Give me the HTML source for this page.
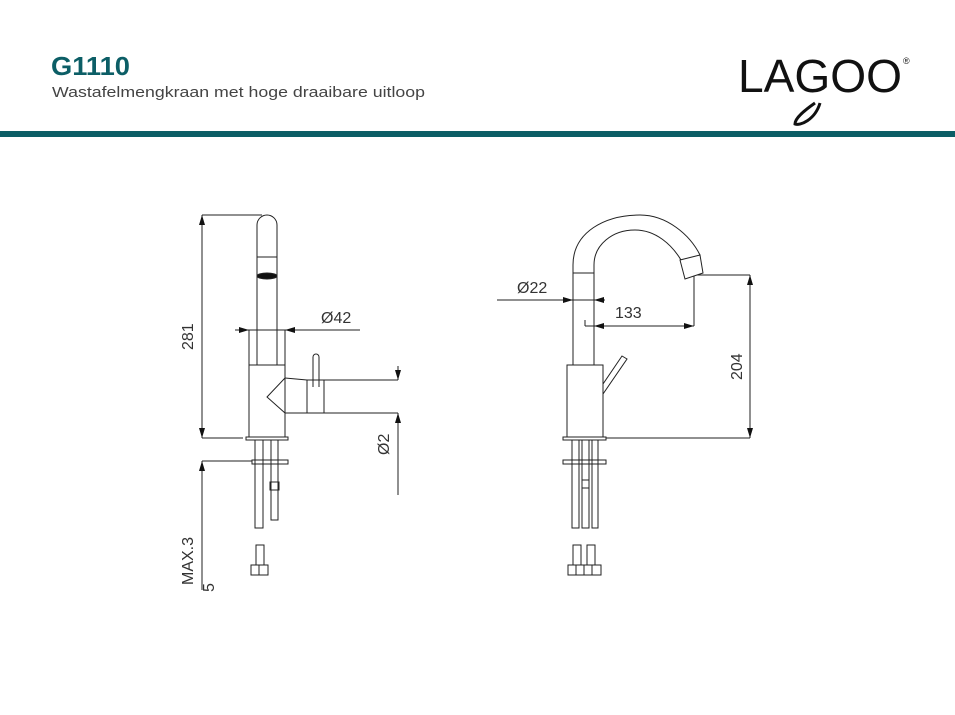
<!DOCTYPE html>
<html><head><style>
body{margin:0;background:#fff;}
svg{display:block;}
</style></head><body>
<svg width="955" height="715" viewBox="0 0 955 715" xmlns="http://www.w3.org/2000/svg">
<rect width="955" height="715" fill="#fff"/>
<text x="51" y="75" font-family="Liberation Sans, sans-serif" font-size="26" font-weight="bold" fill="#0c5e66" textLength="79" lengthAdjust="spacingAndGlyphs">G1110</text>
<text x="52" y="97" font-family="Liberation Sans, sans-serif" font-size="15" fill="#444" textLength="373" lengthAdjust="spacingAndGlyphs">Wastafelmengkraan met hoge draaibare uitloop</text>
<text x="738" y="92" font-family="Liberation Sans, sans-serif" font-size="46" fill="#111" textLength="164" lengthAdjust="spacingAndGlyphs">LAGOO</text>
<text x="903" y="64" font-family="Liberation Sans, sans-serif" font-size="9" fill="#111">®</text>
<path d="M815 103 C805 110 795 118 795 124 C800 126 815 120 820 103" fill="none" stroke="#111" stroke-width="3"/>
<rect x="0" y="131" width="955" height="6" fill="#0c5e66"/>

<g fill="none" stroke="#222" stroke-width="1">
<!-- LEFT VIEW -->
<line x1="202" y1="215" x2="262" y2="215"/>
<line x1="202" y1="215" x2="202" y2="438"/>
<line x1="202" y1="438" x2="243" y2="438"/>
<path d="M257 365 V225 A10 10 0 0 1 277 225 V365"/>
<line x1="257" y1="257" x2="277" y2="257"/>
<ellipse cx="267" cy="276" rx="10" ry="3" fill="#111"/>
<line x1="235" y1="330" x2="360" y2="330"/>
<line x1="249" y1="330" x2="249" y2="365"/>
<line x1="285" y1="330" x2="285" y2="365"/>
<rect x="249" y="365" width="36" height="72"/>
<rect x="246" y="437" width="42" height="3"/>
<path d="M285 378 L267 397 L285 413"/>
<path d="M285 378 L307 380 M285 413 L307 413"/>
<rect x="307" y="380" width="17" height="33"/>
<path d="M313 387 V357 A3 3 0 0 1 319 357 V387"/>
<path d="M324 380 H398 M324 413 H398"/>
<line x1="398" y1="366" x2="398" y2="380"/>
<line x1="398" y1="413" x2="398" y2="495"/>
<rect x="252" y="460" width="36" height="4"/>
<line x1="202" y1="461" x2="252" y2="461"/>
<line x1="202" y1="461" x2="202" y2="590"/>
<rect x="255" y="440" width="8" height="88"/>
<rect x="271" y="440" width="7" height="80"/>
<rect x="270" y="482" width="9" height="8"/>
<rect x="256" y="545" width="8" height="20"/>
<rect x="251" y="565" width="17" height="10"/>
<line x1="259" y1="565" x2="259" y2="575"/>

<!-- RIGHT VIEW -->
<path d="M573 365 V265 C573 232 605 215 640 215 C667 215 690 235 700 255"/>
<path d="M594 365 V265 C594 245 612 230 635 230 C656 230 672 245 681 260"/>
<line x1="573" y1="273" x2="594" y2="273"/>
<polygon points="680,260 700,255 703,273 685,279"/>
<line x1="497" y1="300" x2="605" y2="300"/>
<line x1="585" y1="320" x2="585" y2="326"/>
<line x1="585" y1="326" x2="694" y2="326"/>
<line x1="694" y1="276" x2="694" y2="326"/>
<line x1="697" y1="275" x2="750" y2="275"/>
<line x1="750" y1="275" x2="750" y2="438"/>
<line x1="606" y1="438" x2="750" y2="438"/>
<rect x="567" y="365" width="36" height="72"/>
<rect x="563" y="437" width="43" height="3"/>
<polygon points="603,384 622,356 627,359 603,394"/>
<rect x="572" y="440" width="7" height="88"/>
<rect x="582" y="440" width="7" height="88"/>
<rect x="592" y="440" width="6" height="88"/>
<rect x="563" y="460" width="43" height="4"/>
<rect x="582" y="480" width="7" height="8"/>
<rect x="573" y="545" width="8" height="20"/>
<rect x="587" y="545" width="8" height="20"/>
<rect x="568" y="565" width="33" height="10"/>
<line x1="576" y1="565" x2="576" y2="575"/>
<line x1="584" y1="565" x2="584" y2="575"/>
<line x1="592" y1="565" x2="592" y2="575"/>
</g>

<g fill="#111">
<polygon points="202,215 199,225 205,225"/>
<polygon points="202,438 199,428 205,428"/>
<polygon points="202,461 199,471 205,471"/>
<polygon points="249,330 239,327 239,333"/>
<polygon points="285,330 295,327 295,333"/>
<polygon points="398,380 395,370 401,370"/>
<polygon points="398,413 395,423 401,423"/>
<polygon points="573,300 563,297 563,303"/>
<polygon points="594,300 604,297 604,303"/>
<polygon points="594,326 604,323 604,329"/>
<polygon points="694,326 684,323 684,329"/>
<polygon points="750,275 747,285 753,285"/>
<polygon points="750,438 747,428 753,428"/>
</g>

<g font-family="Liberation Sans, sans-serif" font-size="16" fill="#333">
<text x="321" y="323">Ø42</text>
<text x="517" y="293">Ø22</text>
<text x="615" y="318">133</text>
<text transform="translate(193,350) rotate(-90)">281</text>
<text transform="translate(389,455) rotate(-90)">Ø2</text>
<text transform="translate(193,585) rotate(-90)">MAX.3</text>
<text transform="translate(214,592) rotate(-90)">5</text>
<text transform="translate(742,380) rotate(-90)">204</text>
</g>
</svg>
</body></html>
